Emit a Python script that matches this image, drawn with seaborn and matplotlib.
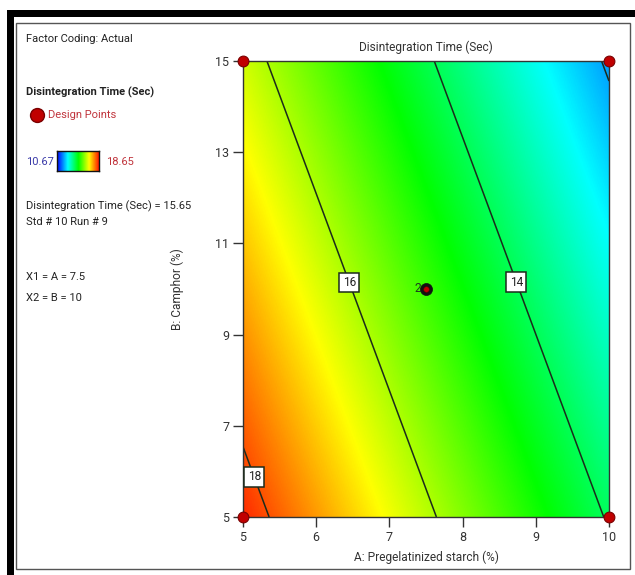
import numpy as np
import pandas as pd
import matplotlib
matplotlib.use("Agg")
import matplotlib.pyplot as plt
import seaborn as sns
from matplotlib.colors import LinearSegmentedColormap, Normalize
from matplotlib.patches import Rectangle
from matplotlib.textpath import TextPath
from matplotlib.font_manager import FontProperties

# Fitted response surface: Disintegration Time = b0 + bA*A + bB*B
model_terms = ["Intercept", "A", "B"]
model_coefs = [23.70, -0.875, -0.2026]

# Design points (A: Pregelatinized starch %, B: Camphor %)
design_a = [5, 5, 10, 10, 7.5]
design_b = [5, 15, 5, 15, 10]
center_label = "2"

# Response range of the runs
resp_min = 10.67
resp_max = 18.65
contour_levels = [12, 14, 16, 18]
label_spots = [(6.51, 10.18), (8.80, 10.19), (5.24, 5.93)]

x_ticks = [5, 6, 7, 8, 9, 10]
y_ticks = [5, 7, 9, 11, 13, 15]

sns.set_style("white")
FAMILY = ["Roboto", "DejaVu Sans"]
plt.rcParams["font.family"] = FAMILY

# Size the panel text so the prediction line spans about 164 px
probe = "Disintegration Time (Sec) = 15.65"
tp = TextPath((0, 0), probe, size=100, prop=FontProperties(family=FAMILY[0]))
w100 = tp.get_extents().width
FS = min(100 * 164 / (w100 * 100 / 72), 9.5)
FS_AX = FS * 1.07
FS_TICK = 9

W, H = 635, 575
fig = plt.figure(figsize=(W / 100, H / 100), dpi=100)
fig.patch.set_facecolor("white")


def fx(px):
    return px / W


def fy(py):
    return 1 - py / H


cmap = LinearSegmentedColormap.from_list(
    "de", [(0.0, "#0000ff"), (0.25, "#00ffff"), (0.5, "#00ff00"),
           (0.75, "#ffff00"), (1.0, "#ff0000")])
norm = Normalize(resp_min, resp_max)

ax = fig.add_axes([fx(243), fy(517), fx(609) - fx(243), fy(61) - fy(517)])

a_grid = np.linspace(5, 10, 300)
b_grid = np.linspace(5, 15, 300)
AA, BB = np.meshgrid(a_grid, b_grid)
coef = dict(zip(model_terms, model_coefs))
ZZ = coef["Intercept"] + coef["A"] * AA + coef["B"] * BB

ax.imshow(ZZ, extent=[5, 10, 5, 15], origin="lower", aspect="auto",
          cmap=cmap, norm=norm, interpolation="bilinear")
cs = ax.contour(AA, BB, ZZ, levels=contour_levels, colors="#1c2b1c",
                linewidths=1.1)
labels = ax.clabel(cs, fmt="%d", fontsize=FS_AX, inline=False,
                   manual=label_spots)
for t in labels:
    t.set_rotation(0)
    t.set_color("#222222")
    t.set_zorder(4)
    t.set_bbox(dict(boxstyle="square,pad=0.28", fc="white", ec="#1c2b1c",
                    lw=1.1))

pts = pd.DataFrame({"A": design_a, "B": design_b})
corners = pts.iloc[:4]
center = pts.iloc[4:]
sns.scatterplot(data=corners, x="A", y="B", ax=ax, s=60, color="#c00000",
                edgecolor="#7a0000", linewidth=0.8, clip_on=False, zorder=5,
                legend=False)
sns.scatterplot(data=center, x="A", y="B", ax=ax, s=75, color="#111111",
                edgecolor="#111111", linewidth=0.5, clip_on=False, zorder=5,
                legend=False)
sns.scatterplot(data=center, x="A", y="B", ax=ax, s=16, color="#c00000",
                edgecolor="#600000", linewidth=0.4, zorder=6, legend=False)
ax.annotate(center_label, (center["A"].iloc[0], center["B"].iloc[0]),
            xytext=(-3.5, 0), textcoords="offset points", ha="right",
            va="center", fontsize=FS_AX, color="#1e3a1e", zorder=7)

ax.set_xlim(5, 10)
ax.set_ylim(5, 15)
ax.set_xticks(x_ticks)
ax.set_yticks(y_ticks)
ax.tick_params(axis="both", direction="out", length=7, width=1.0,
               color="#333333", labelcolor="#333333", labelsize=FS_TICK,
               left=True, bottom=True, pad=3)
for s in ax.spines.values():
    s.set_color("#333333")
    s.set_linewidth(1.0)
ax.set_xlabel("A: Pregelatinized starch (%)", fontsize=FS_AX,
              color="#333333", labelpad=5)
ax.set_ylabel("B: Camphor (%)", fontsize=FS_AX, color="#333333",
              labelpad=22)
ax.set_title("Disintegration Time (Sec)", fontsize=FS_AX, color="#333333",
             pad=7)

# Left information panel
txt = dict(fontsize=FS, color="#222222", va="center", ha="left")
fig.text(fx(26), fy(39), "Factor Coding: Actual", **txt)
fig.text(fx(26), fy(92), "Disintegration Time (Sec)", fontweight="bold",
         **txt)
fig.add_artist(plt.Line2D([fx(37)], [fy(115)], marker="o", markersize=10,
                          color="#c00000", markeredgecolor="#7a0000"))
fig.text(fx(48), fy(115), "Design Points", fontsize=FS, color="#c0343c",
         va="center", ha="left")
fig.text(fx(26), fy(162), f"{resp_min:.2f}", fontsize=FS, color="#3a3aa8",
         va="center", ha="left")
cax = fig.add_axes([fx(57), fy(171), fx(99) - fx(57), fy(151) - fy(171)])
cax.imshow(np.linspace(0, 1, 200)[None, :], aspect="auto", cmap=cmap,
           extent=[0, 1, 0, 1])
cax.set_xticks([])
cax.set_yticks([])
for s in cax.spines.values():
    s.set_color("#111111")
    s.set_linewidth(1.0)
fig.text(fx(106), fy(162), f"{resp_max:.2f}", fontsize=FS, color="#c0343c",
         va="center", ha="left")
fig.text(fx(26), fy(206), probe, **txt)
fig.text(fx(26), fy(222), "Std # 10 Run # 9", **txt)
fig.text(fx(26), fy(277), "X1 = A = 7.5", **txt)
fig.text(fx(26), fy(298), "X2 = B = 10", **txt)

# Frame: heavy black band top and left, thin grey inner border
fig.add_artist(Rectangle((fx(7), fy(575)), fx(7), fy(10) - fy(575),
                         transform=fig.transFigure, color="black", lw=0))
fig.add_artist(Rectangle((fx(7), fy(17)), 1 - fx(7), fy(10) - fy(17),
                         transform=fig.transFigure, color="black", lw=0))
fig.add_artist(Rectangle((fx(16), fy(569)), fx(630) - fx(16),
                         fy(23) - fy(569), transform=fig.transFigure,
                         fill=False, ec="#555555", lw=1.0))

fig.savefig("out.png", dpi=100)
